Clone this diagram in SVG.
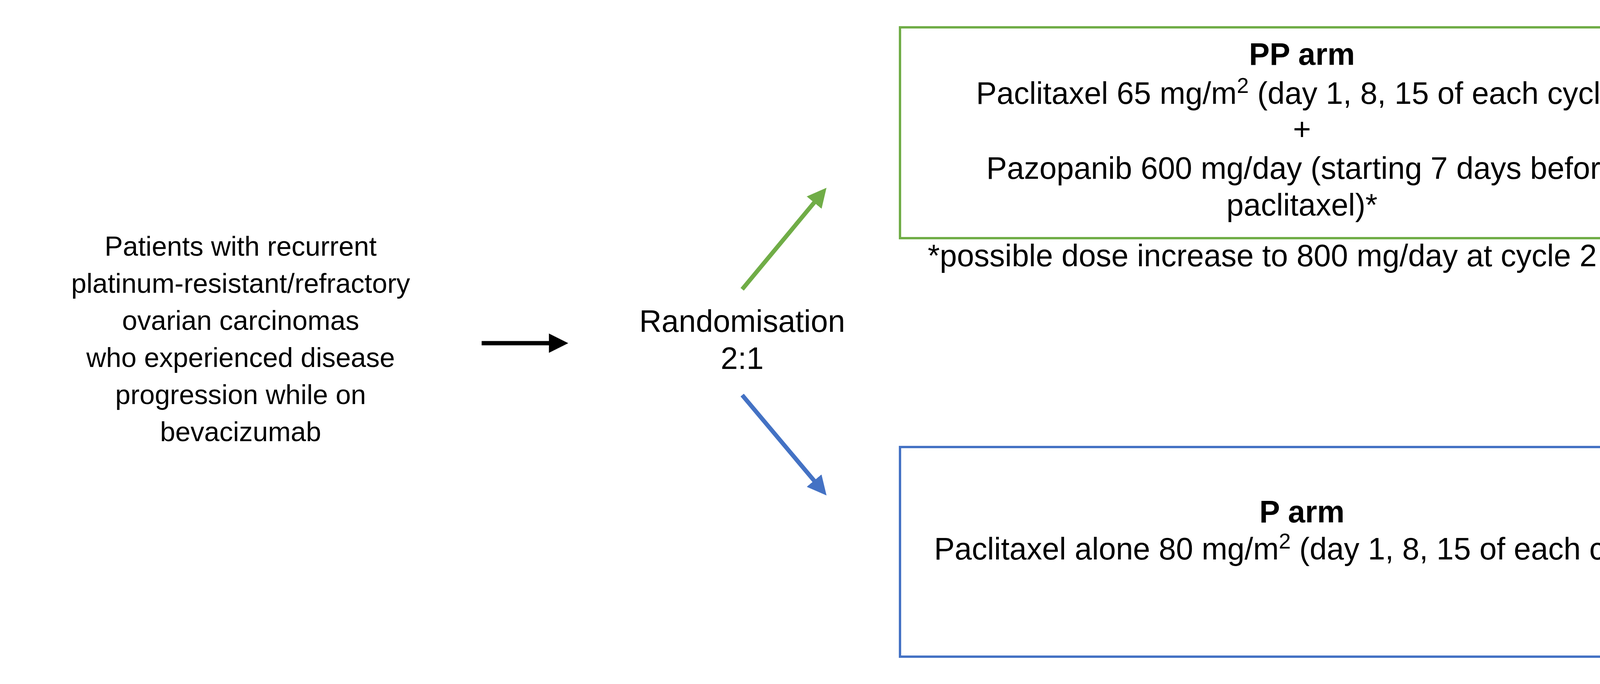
<svg xmlns="http://www.w3.org/2000/svg" width="4433" height="1752" viewBox="0 0 4433 1752">
<style>
text{font-family:"Liberation Sans",Arial,sans-serif;font-size:79px;fill:#000;text-anchor:middle}
.l{font-size:70px}
.b{font-weight:bold}
.c{stroke-width:11;fill:none}
</style>
<defs>
<marker id="mb" viewBox="0 0 10 10" refX="5" refY="5" markerWidth="4.5" markerHeight="4.5" orient="auto"><path d="M0,0L10,5L0,10z" fill="#000"/></marker>
<marker id="mg" viewBox="0 0 10 10" refX="5" refY="5" markerWidth="4.5" markerHeight="4.5" orient="auto"><path d="M0,0L10,5L0,10z" fill="#70ad47"/></marker>
<marker id="mbl" viewBox="0 0 10 10" refX="5" refY="5" markerWidth="4.5" markerHeight="4.5" orient="auto"><path d="M0,0L10,5L0,10z" fill="#4472c4"/></marker>
</defs>
<rect width="4433" height="1752" fill="#fff"/>
<g id="patients">
<text class="l" x="616" y="655">Patients with recurrent</text>
<text class="l" x="616" y="750">platinum-resistant/refractory</text>
<text class="l" x="616" y="845">ovarian carcinomas</text>
<text class="l" x="616" y="940">who experienced disease</text>
<text class="l" x="616" y="1035">progression while on</text>
<text class="l" x="616" y="1130">bevacizumab</text>
</g>
<g id="randomisation">
<text x="1900" y="850">Randomisation</text>
<text x="1900" y="945">2:1</text>
</g>
<g id="pp-arm">
<rect x="2304" y="70" width="2058" height="540" fill="none" stroke="#70ad47" stroke-width="6"/>
<text class="b" x="3333" y="166">PP arm</text>
<text x="3333" y="266">Paclitaxel 65 mg/m<tspan dy="-28" font-size="55">2</tspan><tspan dy="28"> (day 1, 8, 15 of each cycle)</tspan></text>
<text x="3333" y="358">+</text>
<text x="3333" y="458">Pazopanib 600 mg/day (starting 7 days before</text>
<text x="3333" y="552">paclitaxel)*</text>
</g>
<g id="footnote"><text x="2375" y="682" style="text-anchor:start">*possible dose increase to 800 mg/day at cycle 2</text></g>
<g id="p-arm">
<rect x="2304" y="1145" width="2058" height="537" fill="none" stroke="#4472c4" stroke-width="6"/>
<text class="b" x="3333" y="1338">P arm</text>
<text x="3333" y="1433">Paclitaxel alone 80 mg/m<tspan dy="-28" font-size="55">2</tspan><tspan dy="28"> (day 1, 8, 15 of each cycle)</tspan></text>
</g>
<g id="connectors">
<line class="c" x1="1233" y1="879" x2="1430" y2="879" stroke="#000" marker-end="url(#mb)"/>
<line class="c" x1="1900" y1="741" x2="2100" y2="500" stroke="#70ad47" marker-end="url(#mg)"/>
<line class="c" x1="1900" y1="1012" x2="2100" y2="1250" stroke="#4472c4" marker-end="url(#mbl)"/>
</g>
</svg>
